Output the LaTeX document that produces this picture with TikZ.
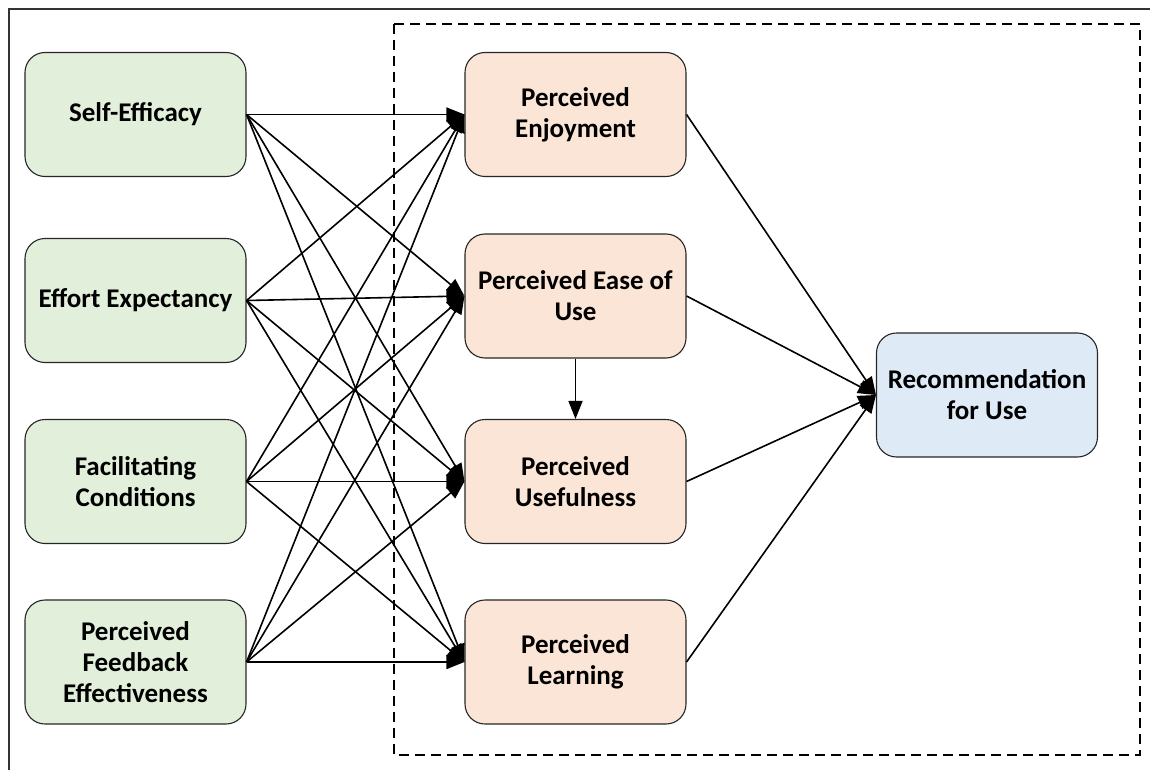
\documentclass[tikz,border=0pt]{standalone}
\usepackage{fontspec}
\setmainfont{Carlito}
\usetikzlibrary{arrows.meta}
\definecolor{gfill}{HTML}{E2EFDA}
\definecolor{ofill}{HTML}{FBE5D6}
\definecolor{bfill}{HTML}{DEEBF7}
\begin{document}
\begin{tikzpicture}[x=1pt,y=-1pt,
  box/.style={draw=black!85, line width=1.1pt, rounded corners=20pt,
    minimum width=221pt, minimum height=124pt, align=center,
    font=\fontsize{27}{31}\selectfont\bfseries, inner sep=0pt},
  gbox/.style={box, fill=gfill},
  obox/.style={box, fill=ofill},
  bbox/.style={box, fill=bfill},
  arr/.style={line width=1.6pt, -{Triangle[length=18pt,width=14pt]}}]
\useasboundingbox (0,0) rectangle (1150,770);
\draw[line width=2pt, black!80] (1150,9.5) -- (8.5,9.5) -- (8.5,770);
\draw[dash pattern=on 10pt off 6pt, line width=1.4pt] (394,24) rectangle (1140,755);
\node[gbox] (se) at (135.5,114.5) {Self-Efficacy};
\node[gbox] (ee) at (135.5,300.5) {Effort Expectancy};
\node[gbox] (fc) at (135.5,481.5) {Facilitating\\Conditions};
\node[gbox] (pfe) at (135.5,662) {Perceived\\Feedback\\Effectiveness};
\node[obox] (pe) at (575.5,114.5) {Perceived\\Enjoyment};
\node[obox] (peu) at (575.5,296) {Perceived Ease of\\Use};
\node[obox] (pu) at (575.5,481.5) {Perceived\\Usefulness};
\node[obox] (pl) at (575.5,662) {Perceived\\Learning};
\node[bbox] (rfu) at (987,395) {Recommendation\\for Use};
\foreach \s in {se,ee,fc,pfe}
  \foreach \t in {pe,peu,pu,pl}
    \draw[arr] (\s.east) -- (\t.west);
\draw[arr] (peu.south) -- (pu.north);
\foreach \t in {pe,peu,pu,pl}
  \draw[arr] (\t.east) -- (rfu.west);
\end{tikzpicture}
\end{document}
